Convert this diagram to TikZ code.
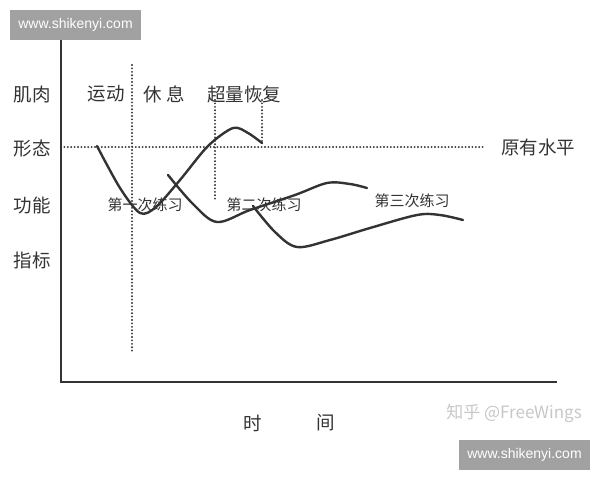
\documentclass[tikz,border=0pt]{standalone}
\usepackage{fontspec}
\setmainfont{Liberation Sans}
\newfontfamily\cjk{Noto Sans CJK SC}
\begin{document}
\begin{tikzpicture}[x=1pt,y=-1pt]
	\definecolor{inkgray}{rgb}{0.2,0.2,0.2}
	\definecolor{markgray}{rgb}{0.63,0.63,0.63}
	\definecolor{faintgray}{rgb}{0.78,0.78,0.78}
	\tikzset{lab/.style={font=\cjk\fontsize{18.5}{18.5}\selectfont,text=inkgray},
		small/.style={font=\cjk\fontsize{15}{15}\selectfont,text=inkgray},
		curve/.style={line width=2.4pt,color=inkgray,line cap=round},
		dots/.style={line width=2.1pt,color=inkgray,dash pattern=on 0pt off 3.4pt,line cap=round},
		wmark/.style={fill=markgray,text=white,minimum width=131pt,minimum height=30pt,font=\fontsize{14}{14}\selectfont}}
	\useasboundingbox (0,0) rectangle (600,480);
	% axes
	\draw[line width=2pt,color=inkgray] (61,40)--(61,382)--(557,382);
	% dotted guides
	\draw[dots] (61,147)--(483,147);
	\draw[dots] (132,65)--(132,352);
	\draw[dots] (215,100)--(215,200) (262,100)--(262,143);
	% curves
	\draw[curve] plot[smooth,tension=0.5] coordinates {(97,146) (120,188) (140,213) (156,207) (180,180) (208,146) (233,128) (248,133) (262,143)};
	\draw[curve] plot[smooth,tension=0.55] coordinates {(168,175) (193,204) (217,222) (250,210) (295,195) (327,183) (350,184) (367,188)};
	\draw[curve] plot[smooth,tension=0.55] coordinates {(253,206) (275,232) (297,247) (330,240) (370,228) (417,215) (440,215) (463,220)};
	% labels
	\node[lab] (jirou) at (32,95) {肌肉};
	\node[lab] (xingtai) at (32,148) {形态};
	\node[lab] (gongneng) at (32,205) {功能};
	\node[lab] (zhibiao) at (32,260) {指标};
	\node[lab] (yundong) at (106,94) {运动};
	\node[lab] (xiuxi) at (164,94) {休 息};
	\node[lab] (chaoliang) at (244,94) {超量恢复};
	\node[lab] (yuanyou) at (538,147) {原有水平};
	\node[small] (ci1) at (145,205) {第一次练习};
	\node[small] (ci2) at (264,205) {第二次练习};
	\node[small] (ci3) at (412,201) {第三次练习};
	\node[lab] (shi) at (253,423) {时};
	\node[lab] (jian) at (326,423) {间};
	% marks
	\node[wmark] (wm1) at (75.5,25) {www.shikenyi.com};
	\node[wmark] (wm2) at (524.5,455) {www.shikenyi.com};
	\node[font=\cjk\fontsize{17}{17}\selectfont,text=faintgray] (zhihu) at (514,413) {知乎 @FreeWings};
\end{tikzpicture}
\end{document}
